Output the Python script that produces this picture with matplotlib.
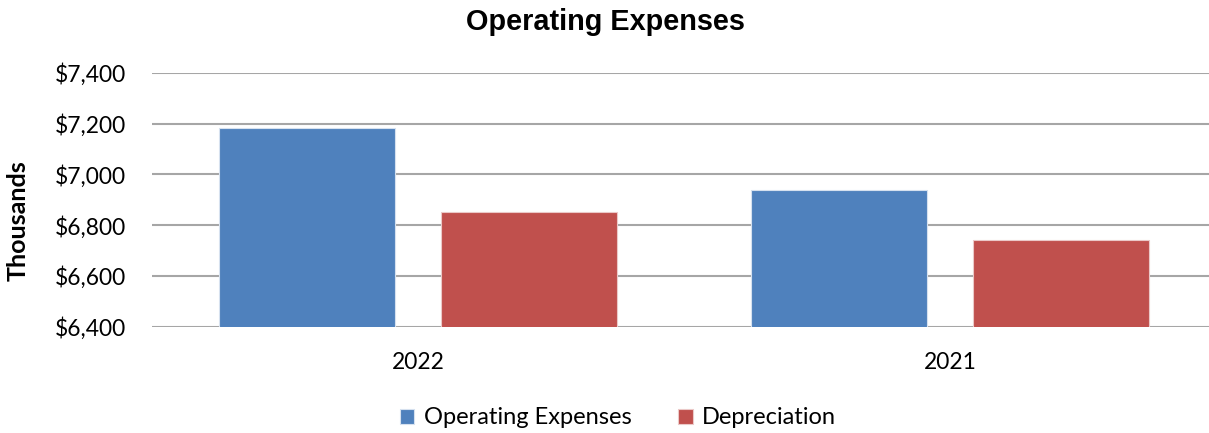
import matplotlib
matplotlib.use("Agg")
import matplotlib.pyplot as plt
import numpy as np
from matplotlib.ticker import FuncFormatter, MultipleLocator

categories = ["2022", "2021"]
operating_expenses = [7184, 6940]
depreciation = [6853, 6743]
series_names = ["Operating Expenses", "Depreciation"]

W, H = 1209, 433
fig = plt.figure(figsize=(W / 100, H / 100), dpi=100)
ax = fig.add_axes([152 / W, 1 - 326.7 / H, 1064 / W, (326.7 - 73) / H])

x = np.arange(len(categories))
bw = 0.332
off = 0.2086
blue = "#4F81BD"
red = "#C0504D"
ax.bar(x - off, operating_expenses, bw, color=blue, edgecolor="#D6E1EF",
       linewidth=0.8, label=series_names[0], zorder=3)
ax.bar(x + off, depreciation, bw, color=red, edgecolor="#EBC9C8",
       linewidth=0.8, label=series_names[1], zorder=3)

ax.set_xlim(-0.5, 1.5)
ax.set_ylim(6400, 7400)
ax.yaxis.set_major_locator(MultipleLocator(200))
ax.yaxis.set_major_formatter(FuncFormatter(lambda v, p: f"${v:,.0f}"))
ax.grid(axis="y", color="#A6A6A6", linewidth=1.5, zorder=0)
for s in ax.spines.values():
    s.set_visible(False)
ax.tick_params(axis="both", length=0, labelsize=16.4)
ax.tick_params(axis="y", pad=18.5)
ax.tick_params(axis="x", pad=18)
ax.set_xticks(x)
ax.set_xticklabels(categories, fontfamily="Lato")
for lab in ax.get_yticklabels():
    lab.set_fontfamily("Lato")

fig.text(18 / W, 1 - 221 / H, "Thousands", rotation=90, ha="center", va="center",
         fontsize=18, fontweight="bold", fontfamily="Lato")
fig.text(605 / W, 1 - 22 / H, "Operating Expenses", ha="center", va="center",
         fontsize=20.8, fontweight="bold", fontfamily="Liberation Sans")

leg = fig.legend(loc="center", bbox_to_anchor=(618 / W, 1 - 418 / H), ncol=2,
                 frameon=False, prop={"family": "Lato", "size": 17},
                 handlelength=0.6, handleheight=0.6, handletextpad=0.4,
                 columnspacing=2.0)

fig.savefig("out.png", dpi=100)
